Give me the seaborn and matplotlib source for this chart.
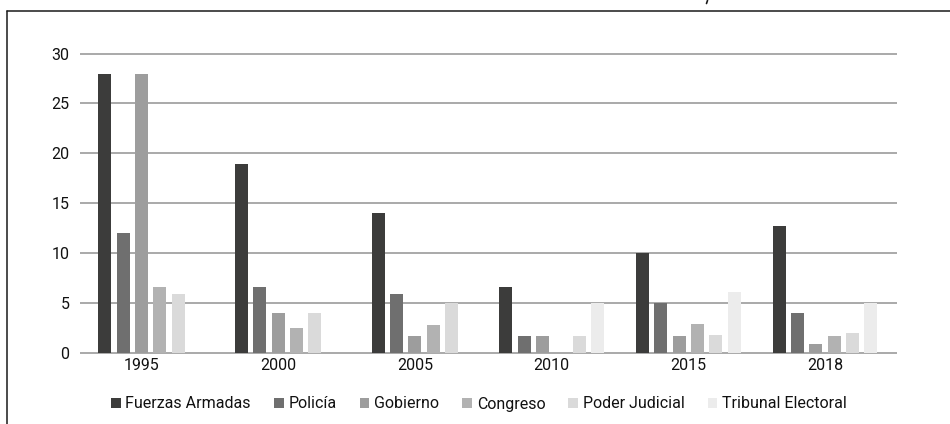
import numpy as np
import pandas as pd
import matplotlib
matplotlib.use("Agg")
import matplotlib.pyplot as plt
from matplotlib.lines import Line2D
import seaborn as sns

# Confidence in institutions by year (%)
years = ["1995", "2000", "2005", "2010", "2015", "2018"]
institutions = ["Fuerzas Armadas", "Policía", "Gobierno", "Congreso",
                "Poder Judicial", "Tribunal Electoral"]

fuerzas_armadas = [28.0, 18.9, 14.0, 6.6, 10.0, 12.7]
policia = [12.0, 6.6, 5.9, 1.7, 5.0, 4.0]
gobierno = [28.0, 4.0, 1.7, 1.7, 1.7, 0.9]
congreso = [6.6, 2.5, 2.8, 0.0, 2.9, 1.7]
poder_judicial = [5.9, 4.0, 5.0, 1.7, 1.8, 2.0]
tribunal_electoral = [np.nan, np.nan, np.nan, 5.0, 6.1, 5.0]

colors = ["#3c3c3b", "#6f6f6f", "#9d9d9d", "#b2b2b2", "#dadada", "#ececec"]

series = [fuerzas_armadas, policia, gobierno, congreso,
          poder_judicial, tribunal_electoral]

# Long table; bars of each year are centred on the year's tick
pitch = 0.134
rows = []
for gi, year in enumerate(years):
    present = [k for k in range(len(institutions)) if not np.isnan(series[k][gi])]
    n = len(present)
    for rank, k in enumerate(present):
        rows.append({"pos": gi + (rank - (n - 1) / 2) * pitch,
                     "Institución": institutions[k],
                     "valor": series[k][gi]})
df = pd.DataFrame(rows)

sns.set_theme(style="white")
plt.rcParams["font.family"] = ["Roboto", "DejaVu Sans"]

fig = plt.figure(figsize=(9.5, 4.24), dpi=100)
ax = fig.add_axes([80 / 950, (424 - 355.7) / 424, 817 / 950, (355.7 - 50.6) / 424])

sns.barplot(data=df, x="pos", y="valor", hue="Institución",
            hue_order=institutions, palette=colors, native_scale=True,
            dodge=False, width=0.71, saturation=1, linewidth=0,
            errorbar=None, ax=ax, zorder=3)

ax.set_xlim(-0.45, 5.527)
ax.set_ylim(-0.3, 30.3)
ax.set_yticks(range(0, 31, 5))
ax.set_xticks(range(len(years)), labels=years)
ax.set_xlabel("")
ax.set_ylabel("")
ax.grid(axis="y", color="#9b9b9b", linewidth=1.2, zorder=0)
ax.set_axisbelow(True)
for s in ax.spines.values():
    s.set_visible(False)
ax.tick_params(axis="y", length=0, pad=7.5, labelsize=11.5, labelcolor="#111111")
ax.tick_params(axis="x", length=0, pad=2, labelsize=11.5, labelcolor="#111111")

sns.move_legend(ax, "center", bbox_to_anchor=(0.5 + 4 / 950, (424 - 404) / 424),
                bbox_transform=fig.transFigure, ncol=6, frameon=False,
                title=None, fontsize=11.5, handlelength=0.6, handleheight=0.6,
                handletextpad=0.3, columnspacing=1.45)
for t in ax.get_legend().get_texts():
    t.set_color("#111111")

# page frame
fig.add_artist(Line2D([7 / 950, 7 / 950], [0, 1 - 11 / 424],
                      transform=fig.transFigure, color="#1a1a1a", linewidth=1.1))
fig.add_artist(Line2D([7 / 950, 1], [1 - 11 / 424, 1 - 11 / 424],
                      transform=fig.transFigure, color="#1a1a1a", linewidth=1.1))
# small stroke on the upper edge of the page
fig.add_artist(Line2D([707.5 / 950, 706.5 / 950], [1 - 0.5 / 424, 1 - 3.5 / 424],
                      transform=fig.transFigure, color="#1a1a1a", linewidth=1.2))

fig.savefig("out.png", dpi=100)
